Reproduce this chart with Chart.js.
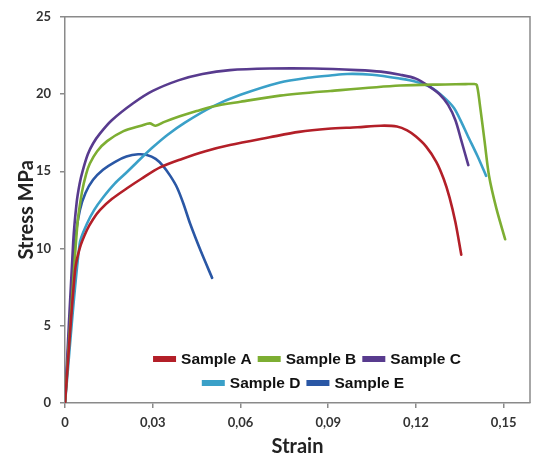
<!DOCTYPE html>
<html><head><meta charset="utf-8">
<script src="https://cdn.jsdelivr.net/npm/chart.js@4"></script>
<style>html,body{margin:0;padding:0;background:#fff;}</style>
</head><body>
<canvas id="c" width="534" height="459"></canvas>
<script>
// ---- data ----
const seriesNames = ['Sample A', 'Sample B', 'Sample C', 'Sample D', 'Sample E'];
const seriesColors = ['#b31f28', '#7dae32', '#583b8e', '#3aa0c8', '#2a57a5'];

const sampleA = [[0,0],[0.0034,8.5],[0.005,10],[0.0075,11.2],[0.0096,11.9],[0.012,12.5],[0.016,13.2],[0.0212,13.9],[0.026,14.5],[0.0325,15.25],[0.04,15.8],[0.048,16.3],[0.0564,16.7],[0.07,17.2],[0.08,17.55],[0.09,17.75],[0.1,17.85],[0.108,17.95],[0.1135,17.9],[0.117,17.65],[0.12,17.25],[0.1235,16.6],[0.127,15.6],[0.1295,14.5],[0.1315,13.3],[0.1335,11.7],[0.1355,9.6]];
const sampleB = [[0,0],[0.0042,11.5],[0.0058,13.65],[0.0072,14.8],[0.0085,15.5],[0.011,16.3],[0.0144,16.95],[0.02,17.6],[0.026,17.95],[0.029,18.1],[0.031,17.95],[0.034,18.2],[0.039,18.55],[0.045,18.9],[0.0506,19.2],[0.06,19.5],[0.0735,19.9],[0.0907,20.2],[0.1146,20.55],[0.13,20.62],[0.137,20.64],[0.1398,20.65],[0.1408,20.6],[0.1418,19.4],[0.1435,16.9],[0.145,14.7],[0.1475,12.6],[0.1505,10.6]];
const sampleC = [[0,0],[0.0028,10.4],[0.004,13],[0.005,14.2],[0.006,15.0],[0.0078,16.1],[0.0096,16.8],[0.012,17.45],[0.016,18.3],[0.0233,19.4],[0.03,20.2],[0.039,20.9],[0.047,21.3],[0.0564,21.55],[0.07,21.65],[0.085,21.65],[0.1,21.55],[0.108,21.45],[0.1146,21.25],[0.12,21.0],[0.1245,20.5],[0.128,20.0],[0.131,19.3],[0.1335,18.3],[0.1355,17.0],[0.1379,15.4]];
const sampleD = [[0,0],[0.005,10.3],[0.0075,11.6],[0.01,12.5],[0.013,13.3],[0.017,14.2],[0.0212,14.95],[0.0255,15.75],[0.03,16.55],[0.035,17.35],[0.041,18.15],[0.0506,19.2],[0.06,19.95],[0.0735,20.75],[0.083,21.05],[0.0907,21.2],[0.0965,21.3],[0.105,21.25],[0.1146,21.0],[0.12,20.8],[0.125,20.45],[0.1295,19.8],[0.133,19.1],[0.1355,18.2],[0.1377,17.3],[0.141,16.0],[0.144,14.7]];
const sampleE = [[0,0],[0.0035,10.5],[0.0051,12.5],[0.007,13.6],[0.0096,14.45],[0.013,15.1],[0.017,15.6],[0.021,15.95],[0.025,16.1],[0.028,16.05],[0.031,15.8],[0.0335,15.35],[0.036,14.7],[0.0383,13.95],[0.0405,12.9],[0.0428,11.6],[0.0465,9.8],[0.0503,8.1]];

const xTickValues = [0, 0.03, 0.06, 0.09, 0.12, 0.15];
const xTickLabels = ['0', '0,03', '0,06', '0,09', '0,12', '0,15'];
const yTickValues = [0, 5, 10, 15, 20, 25];
const xAxisTitle = 'Strain';
const yAxisTitle = 'Stress MPa';

const allSeries = [sampleA, sampleB, sampleC, sampleD, sampleE];

const datasets = allSeries.map((s, i) => ({
  label: seriesNames[i],
  data: s.map(p => ({x: p[0], y: p[1]})),
  borderColor: seriesColors[i],
  backgroundColor: seriesColors[i],
  borderWidth: 2.6,
  pointRadius: 0,
  showLine: true,
  fill: false,
  tension: 0.3,
  borderJoinStyle: 'round',
  borderCapStyle: 'round'
}));

const axisGray = '#8a8a8a';

const framePlugin = {
  id: 'frame',
  beforeDatasetsDraw(chart) {
    const {ctx, chartArea: a} = chart;
    ctx.save();
    ctx.strokeStyle = axisGray;
    ctx.lineWidth = 1.5;
    ctx.beginPath();
    ctx.moveTo(a.left, a.top); ctx.lineTo(a.right, a.top); ctx.lineTo(a.right, a.bottom);
    ctx.stroke();
    ctx.restore();
  }
};

const legendPlugin = {
  id: 'inLegend',
  afterDatasetsDraw(chart) {
    const ctx = chart.ctx;
    const rows = [{idx: [0,1,2], cx: 307, cy: 359}, {idx: [3,4], cx: 303, cy: 383}];
    ctx.save();
    ctx.font = '700 15.5px "Liberation Sans", Arial, sans-serif';
    ctx.textBaseline = 'middle';
    ctx.textAlign = 'left';
    const boxW = 23, boxH = 6, gapBT = 5, gapItem = 6;
    rows.forEach(r => {
      const widths = r.idx.map(i => boxW + gapBT + ctx.measureText(chart.data.datasets[i].label).width);
      const total = widths.reduce((a, b) => a + b, 0) + gapItem * (r.idx.length - 1);
      let x = r.cx - total / 2;
      r.idx.forEach((i, k) => {
        const ds = chart.data.datasets[i];
        ctx.fillStyle = ds.borderColor;
        ctx.fillRect(x, r.cy - boxH / 2, boxW, boxH);
        ctx.fillStyle = '#111';
        ctx.fillText(ds.label, x + boxW + gapBT, r.cy + 1);
        x += widths[k] + gapItem;
      });
    });
    ctx.restore();
  }
};

new Chart(document.getElementById('c'), {
  type: 'scatter',
  data: {datasets},
  plugins: [framePlugin, legendPlugin],
  options: {
    responsive: false,
    animation: false,
    layout: {padding: {top: 13, right: 4, left: 0, bottom: 0}},
    plugins: {legend: {display: false}, tooltip: {enabled: false}},
    scales: {
      x: {
        type: 'linear', min: 0, max: 0.159,
        afterBuildTicks: s => { s.ticks = xTickValues.map(v => ({value: v})); },
        afterFit: s => { s.height = 56; },
        grid: {display: true, drawOnChartArea: false, drawTicks: true, tickLength: 5, color: axisGray, lineWidth: 1.5},
        border: {display: true, color: axisGray, width: 1.5},
        ticks: {
          padding: 7, color: '#333', maxRotation: 0,
          font: {family: 'Lato, "Open Sans", sans-serif', size: 13, weight: '700'},
          callback: (v, i) => xTickLabels[i]
        },
        title: {display: true, text: xAxisTitle, color: '#222', padding: {top: 0, bottom: 0},
          font: {family: 'Lato, "Open Sans", sans-serif', size: 20, weight: '700'}}
      },
      y: {
        type: 'linear', min: 0, max: 25,
        afterBuildTicks: s => { s.ticks = yTickValues.map(v => ({value: v})); },
        afterFit: s => { s.width = 65; },
        grid: {display: true, drawOnChartArea: false, drawTicks: true, tickLength: 5, color: axisGray, lineWidth: 1.5},
        border: {display: true, color: axisGray, width: 1.5},
        ticks: {
          padding: 9, color: '#333',
          font: {family: 'Lato, "Open Sans", sans-serif', size: 13, weight: '700'},
          callback: v => String(v)
        },
        title: {display: true, text: yAxisTitle, color: '#222', padding: {top: 15, bottom: 0},
          font: {family: 'Lato, "Open Sans", sans-serif', size: 20, weight: '700'}}
      }
    }
  }
});
</script>
</body></html>
